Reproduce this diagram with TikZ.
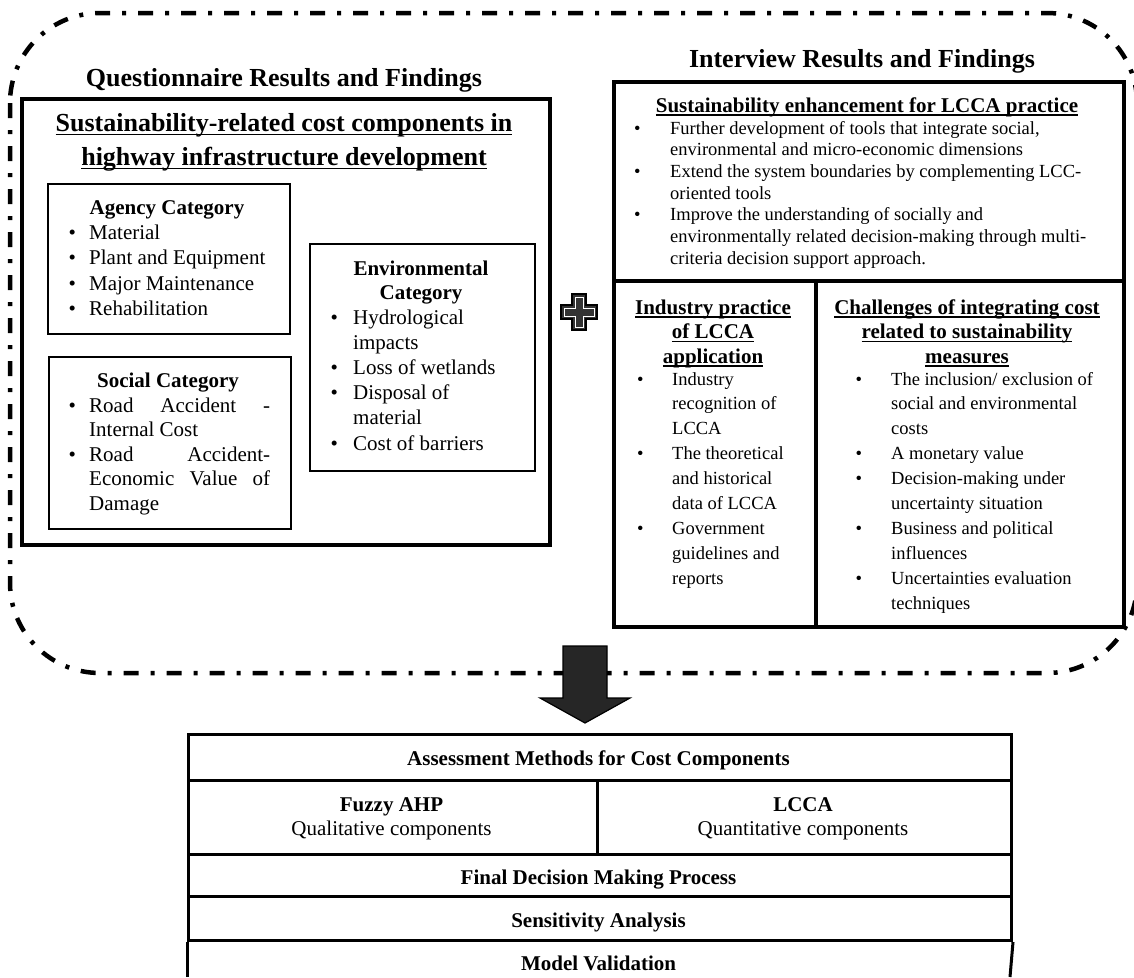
\documentclass[tikz,border=0pt]{standalone}
\usepackage{fontspec}
\setmainfont{Liberation Serif}
\usetikzlibrary{calc}

\newcommand\fsz[2]{\fontsize{#1}{#2}\selectfont}
\newsavebox\ulbox
\newcommand\uln[1]{\sbox\ulbox{#1}\rlap{\rule[-3.8pt]{\wd\ulbox}{1.5pt}}\usebox\ulbox}

\tikzset{
  frame/.style={line width=4.5pt, dash pattern=on 15pt off 12pt on 4pt off 12pt, rounded corners=90pt},
  bigbox/.style={draw, line width=3.5pt, inner sep=0pt, anchor=north west},
  smallbox/.style={draw, line width=2pt, inner sep=0pt, anchor=north west},
  tblbox/.style={draw, line width=3pt, inner sep=0pt, anchor=north west},
  ctext/.style={inner sep=0pt, anchor=base},
  ltext/.style={inner sep=0pt, anchor=base west},
  plusmark/.style={line width=1.5pt, fill=black!80},
  blockarrow/.style={line width=1.2pt, fill=black!85},
}

\begin{document}
\begin{tikzpicture}[x=1pt,y=-1pt]
\useasboundingbox (0,0) rectangle (1134,977);

% dash-dot frame around the findings
\draw[frame] (10,13) rectangle (1137,673);

% headers
\node[ctext, font=\fsz{26}{30}\bfseries] (qhead) at (284,86) {Questionnaire Results and Findings};
\node[ctext, font=\fsz{26}{30}\bfseries] (ihead) at (862,67) {Interview Results and Findings};

% ---------------- Questionnaire box ----------------
\node[bigbox, minimum width=528pt, minimum height=446pt] (qbox) at (20,97) {};
\node[ctext, font=\fsz{26}{34}\bfseries] (qtitle) at (284,131.6)
  {\begin{tabular}[t]{@{}c@{}}\uln{Sustainability-related cost components in}\\\uln{highway infrastructure development}\end{tabular}};

% Agency
\node[smallbox, minimum width=242pt, minimum height=150pt] (agency) at (47,183) {};
\node[ctext, font=\fsz{21}{25}\bfseries] (agencyt) at (167,214) {Agency Category};
\node[ltext, font=\fsz{21}{25.5}] (agencyl) at (68.3,239) {\begin{tabular}[t]{@{}p{20.7pt}@{}l@{}}
\textbullet & Material\\
\textbullet & Plant and Equipment\\
\textbullet & Major Maintenance\\
\textbullet & Rehabilitation
\end{tabular}};

% Social
\node[smallbox, minimum width=242pt, minimum height=172pt] (social) at (48,356) {};
\node[ctext, font=\fsz{21}{25}\bfseries] (socialt) at (168,387) {Social Category};
\node[ltext, font=\fsz{21}{24.6}] (sociall) at (68.3,412) {\begin{tabular}[t]{@{}p{20.7pt}@{}l@{}}
\textbullet & \makebox[181pt][s]{Road Accident -}\\
 & Internal Cost\\
\textbullet & \makebox[181pt][s]{Road Accident-}\\
 & \makebox[181pt][s]{Economic Value of}\\
 & Damage
\end{tabular}};

% Environmental
\node[smallbox, minimum width=225pt, minimum height=227pt] (env) at (309,243) {};
\node[ctext, font=\fsz{21}{24}\bfseries] (envt) at (421,275)
  {\begin{tabular}[t]{@{}c@{}}Environmental\\Category\end{tabular}};
\node[ltext, font=\fsz{21}{25.2}] (envl) at (330.3,324) {\begin{tabular}[t]{@{}p{22.7pt}@{}l@{}}
\textbullet & Hydrological\\
 & impacts\\
\textbullet & Loss of wetlands\\
\textbullet & Disposal of\\
 & material\\
\textbullet & Cost of barriers
\end{tabular}};

% plus sign
\coordinate (pc) at (579,312);
\draw[plusmark, shift={(pc)}] (-7,-18) -- (7,-18) -- (7,-7) -- (18,-7) -- (18,7) -- (7,7) -- (7,18) -- (-7,18) -- (-7,7) -- (-18,7) -- (-18,-7) -- (-7,-7) -- cycle;
\draw[white, line width=0.8pt, shift={(pc)}] (-4,-15) -- (4,-15) -- (4,-4) -- (15,-4) -- (15,4) -- (4,4) -- (4,15) -- (-4,15) -- (-4,4) -- (-15,4) -- (-15,-4) -- (-4,-4) -- cycle;

% ---------------- Interview box ----------------
\node[bigbox, minimum width=510pt, minimum height=199pt] (itop) at (612,80) {};
\node[bigbox, minimum width=202pt, minimum height=346pt] (ileft) at (612,279) {};
\node[bigbox, minimum width=308pt, minimum height=346pt] (iright) at (814,279) {};

\node[ctext, font=\fsz{21}{25}\bfseries] (ititle) at (867,112) {\uln{Sustainability enhancement for LCCA practice}};
\node[ltext, font=\fsz{18.5}{21.7}] (ilist) at (633.8,134) {\begin{tabular}[t]{@{}p{36.2pt}@{}l@{}}
\textbullet & Further development of tools that integrate social,\\
 & environmental and micro-economic dimensions\\
\textbullet & Extend the system boundaries by complementing LCC-\\
 & oriented tools\\
\textbullet & Improve the understanding of socially and\\
 & environmentally related decision-making through multi-\\
 & criteria decision support approach.
\end{tabular}};

\node[ctext, font=\fsz{21}{24.5}\bfseries] (indt) at (713,314)
  {\begin{tabular}[t]{@{}c@{}}\uln{Industry practice}\\\uln{of LCCA}\\\uln{application}\end{tabular}};
\node[ltext, font=\fsz{18.5}{24.9}] (indl) at (636.8,385) {\begin{tabular}[t]{@{}p{35.2pt}@{}l@{}}
\textbullet & Industry\\
 & recognition of\\
 & LCCA\\
\textbullet & The theoretical\\
 & and historical\\
 & data of LCCA\\
\textbullet & Government\\
 & guidelines and\\
 & reports
\end{tabular}};

\node[ctext, font=\fsz{21}{24.5}\bfseries] (chat) at (967,314)
  {\begin{tabular}[t]{@{}c@{}}\uln{Challenges of integrating cost}\\\uln{related to sustainability}\\\uln{measures}\end{tabular}};
\node[ltext, font=\fsz{18.5}{24.9}] (chal) at (855.3,385) {\begin{tabular}[t]{@{}p{35.7pt}@{}l@{}}
\textbullet & The inclusion/ exclusion of\\
 & social and environmental\\
 & costs\\
\textbullet & A monetary value\\
\textbullet & Decision-making under\\
 & uncertainty situation\\
\textbullet & Business and political\\
 & influences\\
\textbullet & Uncertainties evaluation\\
 & techniques
\end{tabular}};

% ---------------- block arrow ----------------
\coordinate (atop) at (585,646);
\draw[blockarrow, shift={(atop)}] (-22,0) -- (22,0) -- (22,52) -- (45,52) -- (0,77) -- (-45,52) -- (-22,52) -- cycle;

% ---------------- table ----------------
\node[tblbox, minimum width=823pt, minimum height=46pt] (t1) at (187,733) {};
\node[tblbox, minimum width=409pt, minimum height=74pt] (t2a) at (187,779) {};
\node[tblbox, minimum width=414pt, minimum height=74pt] (t2b) at (596,779) {};
\node[tblbox, minimum width=823pt, minimum height=42pt] (t3) at (187,853) {};
\node[tblbox, minimum width=823pt, minimum height=44pt] (t4) at (187,895) {};
\draw[line width=3pt] (t4.south west) -- (187,977);
\draw[line width=3pt] (t4.south east) -- (1010,977);

\node[ctext, font=\fsz{21}{25}\bfseries] (tx1) at (598.5,765) {Assessment Methods for Cost Components};
\node[ctext, font=\fsz{21}{25}\bfseries] (tx2) at (391.5,811) {Fuzzy AHP};
\node[ctext, font=\fsz{21}{25}] (tx3) at (391.5,835) {Qualitative components};
\node[ctext, font=\fsz{21}{25}\bfseries] (tx4) at (803,811) {LCCA};
\node[ctext, font=\fsz{21}{25}] (tx5) at (803,835) {Quantitative components};
\node[ctext, font=\fsz{21}{25}\bfseries] (tx6) at (598.5,884) {Final Decision Making Process};
\node[ctext, font=\fsz{21}{25}\bfseries] (tx7) at (598.5,927) {Sensitivity Analysis};
\node[ctext, font=\fsz{21}{25}\bfseries] (tx8) at (598.5,970) {Model Validation};
\end{tikzpicture}
\end{document}
